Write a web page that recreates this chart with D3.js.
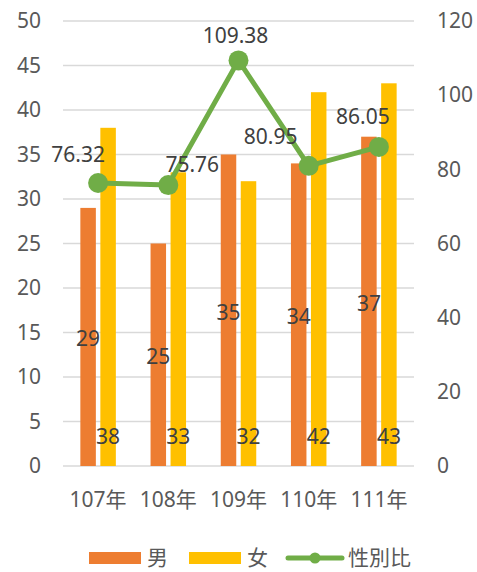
<!DOCTYPE html>
<html>
<head>
<meta charset="utf-8">
<script src="https://cdn.jsdelivr.net/npm/d3@7"></script>
<style>
  body { margin: 0; background: #fff; }
  text { font-family: "Noto Sans", "Noto Sans CJK TC", sans-serif; }
</style>
</head>
<body>
<div id="chart"></div>
<script>
const width = 477;
const height = 572;

// data
const years = ["107年", "108年", "109年", "110年", "111年"];
const male = [29, 25, 35, 34, 37];
const female = [38, 33, 32, 42, 43];
const ratio = [76.32, 75.76, 109.38, 80.95, 86.05];
const leftTicks = [0, 5, 10, 15, 20, 25, 30, 35, 40, 45, 50];
const rightTicks = [0, 20, 40, 60, 80, 100, 120];

// manual nudges for the ratio labels (as in the original)
const ratioLabelShift = [[-20, -28], [24, -20], [-3, -25], [-38, -29], [-16, -30]];

const colors = { male: "#ED7D31", female: "#FFC000", ratio: "#70AD47" };
const fs = 21;

const svg = d3.select("#chart").append("svg")
    .attr("width", width)
    .attr("height", height);

const x = d3.scaleBand().domain(years).range([63, 414]);
const x1 = d3.scaleBand().domain(["男", "女"]).range([-17.75, 17.75]).paddingInner(0.225);
const y = d3.scaleLinear().domain([0, 50]).range([466, 21]);
const y2 = d3.scaleLinear().domain([0, 120]).range([466, 21]);
const cx = d => x(d) + x.bandwidth() / 2;

// gridlines
svg.append("g")
    .selectAll("line")
    .data(leftTicks)
    .join("line")
    .attr("x1", 63)
    .attr("x2", 414)
    .attr("y1", d => y(d))
    .attr("y2", d => y(d))
    .attr("stroke", "#d9d9d9")
    .attr("stroke-width", 1.3);

// left axis
const leftAxis = svg.append("g")
    .attr("transform", "translate(41,0)")
    .call(d3.axisLeft(y).tickValues(leftTicks).tickSize(0).tickPadding(0));
leftAxis.select(".domain").remove();
leftAxis.selectAll("text")
    .attr("fill", "#595959")
    .attr("font-size", fs)
    .attr("font-family", null);

// right axis
const rightAxis = svg.append("g")
    .attr("transform", "translate(437,0)")
    .call(d3.axisRight(y2).tickValues(rightTicks).tickSize(0).tickPadding(0));
rightAxis.select(".domain").remove();
rightAxis.selectAll("text")
    .attr("fill", "#595959")
    .attr("font-size", fs)
    .attr("font-family", null);

// category axis
const bottomAxis = svg.append("g")
    .attr("transform", "translate(0,492)")
    .call(d3.axisBottom(x).tickSize(0).tickPadding(0));
bottomAxis.select(".domain").remove();
bottomAxis.selectAll("text")
    .attr("fill", "#595959")
    .attr("font-size", fs)
    .attr("font-family", null);

// bars
const rows = years.map((yr, i) => ({ yr, m: male[i], f: female[i], r: ratio[i] }));

svg.append("g")
    .selectAll("rect")
    .data(rows)
    .join("rect")
    .attr("x", d => cx(d.yr) + x1("男"))
    .attr("width", x1.bandwidth())
    .attr("y", d => y(d.m))
    .attr("height", d => y(0) - y(d.m))
    .attr("fill", colors.male);

svg.append("g")
    .selectAll("rect")
    .data(rows)
    .join("rect")
    .attr("x", d => cx(d.yr) + x1("女"))
    .attr("width", x1.bandwidth())
    .attr("y", d => y(d.f))
    .attr("height", d => y(0) - y(d.f))
    .attr("fill", colors.female);

// bar labels
svg.append("g")
    .selectAll("text")
    .data(rows)
    .join("text")
    .attr("x", d => cx(d.yr) + x1("男") + x1.bandwidth() / 2)
    .attr("y", d => (y(d.m) + y(0)) / 2 + 2)
    .attr("dy", "0.35em")
    .attr("text-anchor", "middle")
    .attr("font-size", fs)
    .attr("fill", "#404040")
    .text(d => d.m);

svg.append("g")
    .selectAll("text")
    .data(rows)
    .join("text")
    .attr("x", d => cx(d.yr) + x1("女") + x1.bandwidth() / 2)
    .attr("y", y(0) - 29)
    .attr("dy", "0.35em")
    .attr("text-anchor", "middle")
    .attr("font-size", fs)
    .attr("fill", "#404040")
    .text(d => d.f);

// ratio line
const line = d3.line()
    .x(d => cx(d.yr))
    .y(d => y2(d.r));

svg.append("path")
    .datum(rows)
    .attr("d", line)
    .attr("fill", "none")
    .attr("stroke", colors.ratio)
    .attr("stroke-width", 5)
    .attr("stroke-linejoin", "round");

svg.append("g")
    .selectAll("circle")
    .data(rows)
    .join("circle")
    .attr("cx", d => cx(d.yr))
    .attr("cy", d => y2(d.r))
    .attr("r", 10)
    .attr("fill", colors.ratio);

svg.append("g")
    .selectAll("text")
    .data(rows)
    .join("text")
    .attr("x", (d, i) => cx(d.yr) + ratioLabelShift[i][0])
    .attr("y", (d, i) => y2(d.r) + ratioLabelShift[i][1])
    .attr("dy", "0.35em")
    .attr("text-anchor", "middle")
    .attr("font-size", fs)
    .attr("fill", "#404040")
    .text(d => d.r.toFixed(2));

// legend
const legend = svg.append("g").attr("transform", "translate(0,558)");
legend.append("rect").attr("x", 89).attr("y", -6).attr("width", 52).attr("height", 12).attr("fill", colors.male);
legend.append("text").attr("x", 147).attr("dy", "0.35em").attr("font-size", fs).attr("fill", "#595959").text("男");
legend.append("rect").attr("x", 189).attr("y", -6).attr("width", 52).attr("height", 12).attr("fill", colors.female);
legend.append("text").attr("x", 247).attr("dy", "0.35em").attr("font-size", fs).attr("fill", "#595959").text("女");
legend.append("line").attr("x1", 288).attr("x2", 342).attr("stroke", colors.ratio).attr("stroke-width", 5).attr("stroke-linecap", "round");
legend.append("circle").attr("cx", 315).attr("r", 5.5).attr("fill", colors.ratio);
legend.append("text").attr("x", 348).attr("dy", "0.35em").attr("font-size", fs).attr("fill", "#595959").text("性別比");
</script>
</body>
</html>
